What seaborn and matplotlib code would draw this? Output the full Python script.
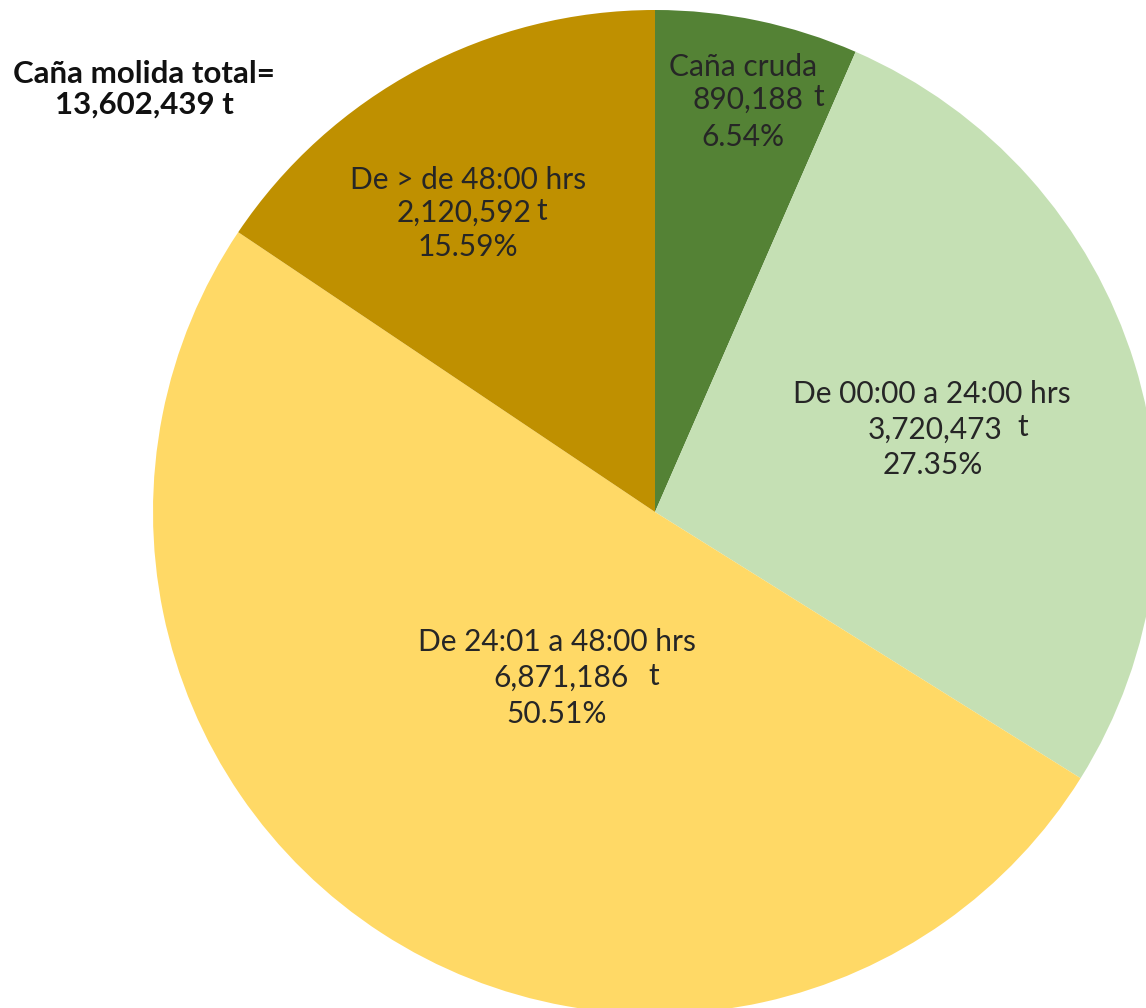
import matplotlib.pyplot as plt
import seaborn as sns

# Data
categories = ['Caña cruda', 'De 00:00 a 24:00 hrs', 'De 24:01 a 48:00 hrs', 'De > de 48:00 hrs']
toneladas = [890188, 3720473, 6871186, 2120592]
porcentajes = ['6.54%', '27.35%', '50.51%', '15.59%']
total = 13602439
colors = ['#548235', '#C5E0B4', '#FFD966', '#BF9000']

# label anchor (pixel) for each slice: name line centre, number centre, t position, pct centre
label_px = [
    ((743, 67), (748, 100), (819, 97), (743, 137)),
    ((932, 394), (935, 430), (1023, 427), (933, 465)),
    ((557, 642), (561, 678), (654, 676), (557, 714)),
    ((468, 180), (464, 213), (542, 211), (468, 247)),
]

sns.set_theme(style="white")
plt.rcParams['font.family'] = ['Lato', 'DejaVu Sans']

W, H = 1146, 1008
cx, cy, r = 655, 512, 502
fig = plt.figure(figsize=(W / 100, H / 100), dpi=100)
ax = fig.add_axes([(cx - r) / W, (H - cy - r) / H, 2 * r / W, 2 * r / H])
ax.pie(toneladas, colors=colors, startangle=90, counterclock=False, radius=1,
       wedgeprops=dict(linewidth=0))
ax.set_xlim(-1, 1)
ax.set_ylim(-1, 1)
ax.axis('off')


def to_data(p):
    return (p[0] - cx) / r, (cy - p[1]) / r


txt = dict(fontsize=21.5, color='#262626', ha='center', va='center')
for cat, val, pct, pos in zip(categories, toneladas, porcentajes, label_px):
    ax.text(*to_data(pos[0]), cat, **txt)
    ax.text(*to_data(pos[1]), f'{val:,}', **txt)
    ax.text(*to_data(pos[2]), 't', **txt)
    ax.text(*to_data(pos[3]), pct, **txt)

fig.text(144 / W, 1 - 74 / H, 'Caña molida total=', fontsize=22.5, fontweight='bold',
         ha='center', va='center', color='#111111')
fig.text(144 / W, 1 - 105 / H, f'{total:,} t', fontsize=22.5, fontweight='bold',
         ha='center', va='center', color='#111111')

fig.savefig('out.png', dpi=100)
